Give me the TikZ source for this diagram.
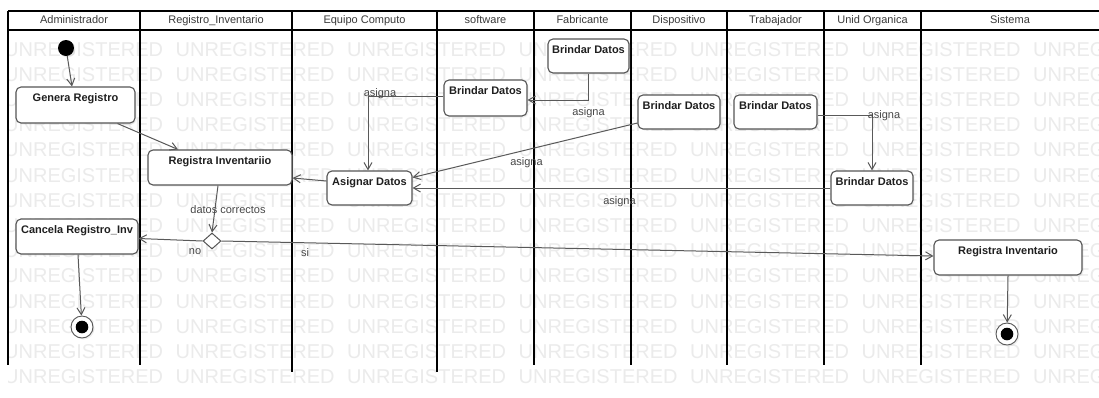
\documentclass[tikz,border=0pt]{standalone}
\usepackage{fontspec}
\setmainfont{Liberation Sans}
\usetikzlibrary{arrows.meta,shadows,shapes.geometric,calc}

\definecolor{wmgray}{HTML}{EBEBEB}
\definecolor{linegray}{HTML}{595959}
\definecolor{boxgray}{HTML}{555555}
\definecolor{headtext}{HTML}{3A3A3A}

\tikzset{
  lane/.style={line width=1.7pt, draw=black},
  headtxt/.style={font=\fontsize{11}{13}\selectfont, text=headtext, anchor=base, inner sep=0pt},
  act/.style={draw=boxgray, line width=1.1pt, fill=white, rounded corners=5pt, inner sep=0pt,
    drop shadow={shadow xshift=1.5pt, shadow yshift=-1.5pt, opacity=0.12}},
  acttxt/.style={font=\fontsize{11}{13}\selectfont\bfseries, text=black!88, anchor=base, inner sep=0pt, yshift=-15.5pt},
  flow/.style={draw=linegray, line width=1pt, -{Straight Barb[length=7pt,width=8pt]}},
  flowlbl/.style={font=\fontsize{11}{13}\selectfont, text=black!72, inner sep=0pt},
  wm/.style={font=\fontsize{20}{20}\selectfont, text=wmgray, anchor=base west, inner sep=0pt},
  startnode/.style={circle, fill=black, inner sep=0pt, minimum size=16pt,
    drop shadow={shadow xshift=1.5pt, shadow yshift=-1.5pt, opacity=0.12}},
  endnode/.style={circle, draw=boxgray, line width=0.9pt, fill=white, inner sep=0pt, minimum size=22pt,
    path picture={\fill[black] (path picture bounding box.center) circle (6.3pt);},
    drop shadow={shadow xshift=1.5pt, shadow yshift=-1.5pt, opacity=0.12}},
  choice/.style={diamond, draw=boxgray, line width=1pt, fill=white, inner sep=0pt,
    minimum width=18pt, minimum height=16pt},
}

\begin{document}
\begin{tikzpicture}[x=1pt, y=-1pt]
  \useasboundingbox (0,0) rectangle (1099,397);
  \fill[white] (0,0) rectangle (1099,397);

  % tiled background text, kept inside the diagram area
  \begin{scope}
    \clip (8,0) rectangle (1099,397);
    \foreach \i in {0,...,13} {
      \foreach \k in {0,...,6} {
        \node[wm] (wm-\i-\k) at (4+171.5*\k, 56+25.2*\i) {UNREGISTERED};
      }
    }
  \end{scope}

  % swimlane headers
  \fill[white] (8,11) rectangle (1099,30);
  \draw[lane] (8,11) -- (1099,11);
  \draw[lane] (8,30) -- (1099,30);
  \foreach \x in {8,140,534,631,727,824,921} {
    \draw[lane] (\x,11) -- (\x,365);
  }
  \foreach \x in {292,437} {
    \draw[lane] (\x,11) -- (\x,372);
  }
  \node[headtxt] (h-adm) at (74,23.5) {Administrador};
  \node[headtxt] (h-reg) at (216,23.5) {Registro\_Inventario};
  \node[headtxt] (h-eq)  at (364.5,23.5) {Equipo Computo};
  \node[headtxt] (h-sw)  at (485.5,23.5) {software};
  \node[headtxt] (h-fab) at (582.5,23.5) {Fabricante};
  \node[headtxt] (h-dis) at (679,23.5) {Dispositivo};
  \node[headtxt] (h-tra) at (775.5,23.5) {Trabajador};
  \node[headtxt] (h-uo)  at (872.5,23.5) {Unid Organica};
  \node[headtxt] (h-sis) at (1010,23.5) {Sistema};

  % activities
  \node[startnode] (init) at (66,48) {};
  \node[act, minimum width=119pt, minimum height=36pt] (genera) at (75.5,105) {};
  \node[act, minimum width=144pt, minimum height=35pt] (regInv) at (220,167.5) {};
  \node[act, minimum width=85pt, minimum height=34pt] (asignar) at (369.5,188) {};
  \node[act, minimum width=83pt, minimum height=36pt] (bSoft) at (485.5,98) {};
  \node[act, minimum width=81pt, minimum height=34pt] (bFab) at (588.5,56) {};
  \node[act, minimum width=82pt, minimum height=34pt] (bDisp) at (679,112) {};
  \node[act, minimum width=83pt, minimum height=34pt] (bTrab) at (775.5,112) {};
  \node[act, minimum width=82pt, minimum height=34pt] (bUnid) at (872,188) {};
  \node[act, minimum width=122pt, minimum height=35pt] (cancela) at (77,236.5) {};
  \node[act, minimum width=148pt, minimum height=35pt] (regSis) at (1008,257.5) {};
  \node[choice] (dec) at (212,241) {};
  \node[endnode] (fin1) at (82,327) {};
  \node[endnode] (fin2) at (1007,334) {};

  \node[acttxt] (genera-t) at (genera.north) {Genera Registro};
  \node[acttxt] (regInv-t) at (regInv.north) {Registra Inventariio};
  \node[acttxt] (asignar-t) at (asignar.north) {Asignar Datos};
  \node[acttxt] (bSoft-t) at (bSoft.north) {Brindar Datos};
  \node[acttxt] (bFab-t) at (bFab.north) {Brindar Datos};
  \node[acttxt] (bDisp-t) at (bDisp.north) {Brindar Datos};
  \node[acttxt] (bTrab-t) at (bTrab.north) {Brindar Datos};
  \node[acttxt] (bUnid-t) at (bUnid.north) {Brindar Datos};
  \node[acttxt] (cancela-t) at (cancela.north) {Cancela Registro\_Inv};
  \node[acttxt] (regSis-t) at (regSis.north) {Registra Inventario};

  % transitions
  \draw[flow] (init) -- ([xshift=-3.5pt]genera.north);
  \draw[flow] ([xshift=42pt]genera.south) -- ([xshift=-42pt]regInv.north);
  \draw[flow] ([xshift=-2pt]regInv.south) -- (dec.north);
  \draw[flow] (dec.west) -- ([yshift=-2pt]cancela.east);
  \draw[flow] (dec.east) -- ([yshift=1.5pt]regSis.west);
  \draw[flow] ([yshift=7pt]asignar.west) -- ([yshift=-10.5pt]regInv.east);
  \draw[flow] ([yshift=1.5pt]bSoft.west) -| ([xshift=-1.5pt]asignar.north);
  \draw[flow] (bFab.south) |- ([yshift=-2pt]bSoft.east);
  \draw[flow] ([yshift=-11pt]bDisp.west) -- ([yshift=10.5pt]asignar.east);
  \draw[flow] ([yshift=-3pt]bTrab.east) -| (bUnid.north);
  \draw[flow] (bUnid.west) -- (asignar.east);
  \draw[flow] ([xshift=1pt]cancela.south) -- (fin1);
  \draw[flow] (regSis.south) -- (fin2);

  % transition labels
  \node[flowlbl] (l-dc) at (228,210) {datos correctos};
  \node[flowlbl] (l-no) at (195,252) {no};
  \node[flowlbl] (l-si) at (305,252.5) {si};
  \node[flowlbl] (l-a1) at (380,93.5) {asigna};
  \node[flowlbl] (l-a2) at (588.5,113) {asigna};
  \node[flowlbl] (l-a3) at (526.5,162.5) {asigna};
  \node[flowlbl] (l-a4) at (884,115.5) {asigna};
  \node[flowlbl] (l-a5) at (619.5,201.5) {asigna};
\end{tikzpicture}
\end{document}
